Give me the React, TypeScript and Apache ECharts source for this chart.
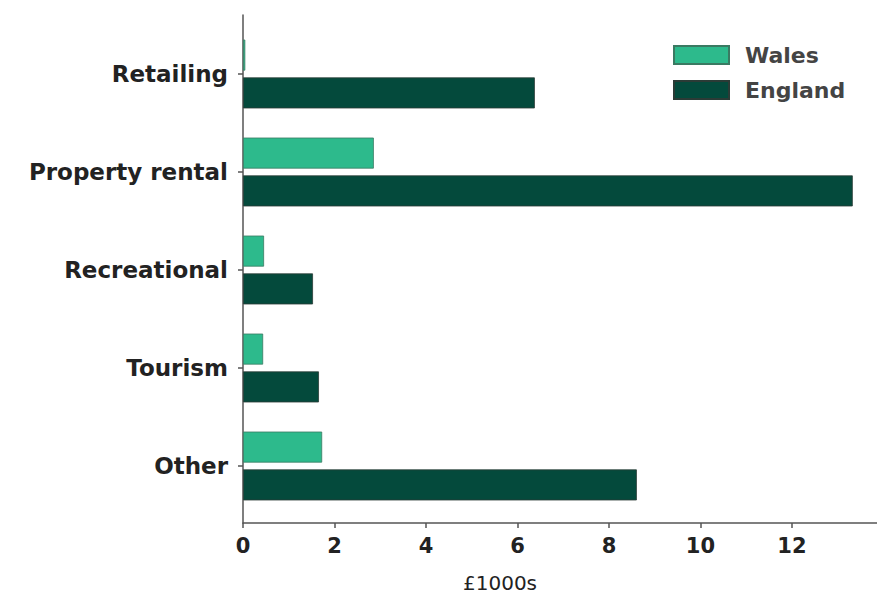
import React, { useEffect, useRef } from "react";
import * as echarts from "echarts";

const categories = ["Retailing", "Property rental", "Recreational", "Tourism", "Other"];
const walesValues = [0.05, 2.86, 0.46, 0.44, 1.73];
const englandValues = [6.38, 13.33, 1.53, 1.66, 8.61];
const xTickValues = [0, 2, 4, 6, 8, 10, 12];
const xAxisName = "£1000s";
const seriesNames = ["Wales", "England"];

const FONT = "'DejaVu Sans', 'Noto Sans', sans-serif";
const X_MAX = 13.86;

export default function App() {
  const ref = useRef<HTMLDivElement>(null);
  useEffect(() => {
    if (!ref.current) return;
    const chart = echarts.init(ref.current, undefined, { renderer: "svg" });
    chart.setOption({
      animation: false,
      backgroundColor: "#ffffff",
      textStyle: { fontFamily: FONT },
      legend: {
        orient: "vertical",
        left: 668,
        top: 39,
        itemWidth: 55,
        itemHeight: 18,
        itemGap: 13,
        icon: "rect",
        data: seriesNames,
        textStyle: {
          fontSize: 22,
          fontWeight: "bold",
          color: "#444",
          fontFamily: FONT,
          padding: [0, 0, 0, 11],
        },
      },
      grid: [
        { left: 243, right: 0, top: 25, bottom: 83 },
        { left: 243, right: 0, top: 15, bottom: 75 },
      ],
      xAxis: [
        {
          gridIndex: 0,
          type: "value",
          min: 0,
          max: X_MAX,
          show: false,
          splitLine: { show: false },
        },
        {
          gridIndex: 1,
          type: "value",
          min: 0,
          max: X_MAX,
          name: xAxisName,
          nameLocation: "middle",
          nameGap: 50,
          nameTextStyle: { fontSize: 20, color: "#222", fontFamily: FONT, padding: [0, 120, 0, 0] },
          axisLine: { show: true, lineStyle: { color: "#555", width: 1.5 } },
          axisTick: { show: true, length: 5, lineStyle: { color: "#555", width: 1.5 }, customValues: xTickValues },
          axisLabel: {
            customValues: xTickValues,
            fontSize: 21,
            fontWeight: "bold",
            color: "#222",
            margin: 12,
            fontFamily: FONT,
          },
          splitLine: { show: false },
        },
      ],
      yAxis: [
        {
          gridIndex: 0,
          type: "category",
          data: categories,
          inverse: true,
          axisLine: { show: false },
          axisTick: { show: true, alignWithLabel: true, length: 5, lineStyle: { color: "#555", width: 1.5 } },
          axisLabel: { fontSize: 23, fontWeight: "bold", color: "#222", margin: 15, fontFamily: FONT },
        },
        {
          gridIndex: 1,
          type: "value",
          min: 0,
          max: 1,
          axisLine: { show: true, lineStyle: { color: "#555", width: 1.5 } },
          axisTick: { show: false },
          axisLabel: { show: false },
          splitLine: { show: false },
        },
      ],
      series: [
        {
          name: seriesNames[0],
          type: "bar",
          xAxisIndex: 0,
          yAxisIndex: 0,
          data: walesValues,
          barWidth: 31,
          barGap: "22%",
          itemStyle: { color: "#2dba8c", borderColor: "#3a7a62", borderWidth: 0.8 },
        },
        {
          name: seriesNames[1],
          type: "bar",
          xAxisIndex: 0,
          yAxisIndex: 0,
          data: englandValues,
          barWidth: 31,
          barGap: "22%",
          itemStyle: { color: "#044a3c", borderColor: "#2b3b36", borderWidth: 0.8 },
        },
      ],
    });
    return () => chart.dispose();
  }, []);
  return (
    <div
      ref={ref}
      style={{ position: "absolute", left: 0, top: 0, width: 877, height: 598 }}
    />
  );
}
